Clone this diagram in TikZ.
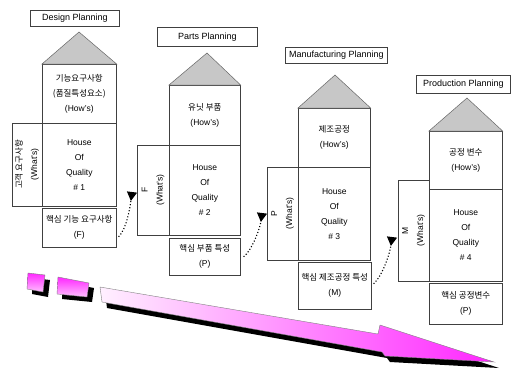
\documentclass[tikz,border=0pt]{standalone}
\usepackage{fontspec}
\setmainfont{Liberation Sans}
\newfontfamily\kr{Noto Sans CJK KR}
\usetikzlibrary{arrows.meta, positioning}

\begin{document}
\begin{tikzpicture}[
  x=1pt, y=-1pt,
  qbox/.style={rectangle, draw=black!75, line width=0.6pt, anchor=north west,
    align=center, inner sep=1pt, font=\fontsize{8.5}{15}\selectfont},
  ttl/.style={qbox, fill=white, font=\fontsize{9}{11}\selectfont},
  whats/.style={qbox, anchor=center, rotate=90},
  roof/.style={fill=black!22, draw=black!60, line width=0.5pt},
  flow/.style={dotted, line width=1.1pt,
    -{Triangle[reversed, length=9pt, width=10pt]}},
  shadowfill/.style={fill=black},
]
\useasboundingbox (0,0) rectangle (516,368);

%% ── House 1 : design planning ────────────────────────────────────────────────
\node[ttl, minimum width=89pt, minimum height=16pt] (T1) at (30,10) {Design Planning};
\node[qbox, minimum width=74pt, minimum height=59pt] (U1) at (42,64)
  {{\kr 기능요구사항}\\{\kr (품질특성요소)}\\(How's)};
\node[qbox, minimum width=74pt, minimum height=83pt] (M1) at (42,123)
  {House\\Of\\Quality\\\# 1};
\node[whats, minimum width=83pt, minimum height=30pt] (W1) at (27,164.5)
  {{\kr 고객 요구사항}\\(What's)};
\node[qbox, minimum width=74pt, minimum height=39pt] (B1) at (42,208)
  {{\kr 핵심 기능 요구사항}\\(F)};
\draw[roof] (U1.north west) -- (79,32) -- (U1.north east) -- cycle;

%% ── House 2 : parts planning ─────────────────────────────────────────────────
\node[ttl, minimum width=100pt, minimum height=19pt] (T2) at (157,27) {Parts Planning};
\node[qbox, minimum width=71pt, minimum height=60pt] (U2) at (169,85)
  {{\kr 유닛 부품}\\(How's)};
\node[qbox, minimum width=71pt, minimum height=90pt] (M2) at (169,145)
  {House\\Of\\Quality\\\# 2};
\node[whats, minimum width=90pt, minimum height=32pt] (W2) at (153,190)
  {F\\(What's)};
\node[qbox, minimum width=71pt, minimum height=37pt] (B2) at (169,238)
  {{\kr 핵심 부품 특성}\\(P)};
\draw[roof] (U2.north west) -- (207,53) -- (U2.north east) -- cycle;

%% ── House 3 : manufacturing planning ─────────────────────────────────────────
\node[ttl, minimum width=102pt, minimum height=16pt] (T3) at (285,47) {Manufacturing Planning};
\node[qbox, minimum width=72pt, minimum height=59pt] (U3) at (298,108)
  {{\kr 제조공정}\\(How's)};
\node[qbox, minimum width=72pt, minimum height=93pt] (M3) at (298,167)
  {House\\Of\\Quality\\\# 3};
\node[whats, minimum width=93pt, minimum height=31pt] (W3) at (282.5,213.5)
  {P\\(What's)};
\node[qbox, minimum width=73pt, minimum height=47pt] (B3) at (298,262)
  {{\kr 핵심 제조공정 특성}\\(M)};
\draw[roof] (U3.north west) -- (335,75) -- (U3.north east) -- cycle;

%% ── House 4 : production planning ────────────────────────────────────────────
\node[ttl, minimum width=94pt, minimum height=18pt] (T4) at (416,75) {Production Planning};
\node[qbox, minimum width=73pt, minimum height=58pt] (U4) at (429,131)
  {{\kr 공정 변수}\\(How's)};
\node[qbox, minimum width=73pt, minimum height=92pt] (M4) at (429,189)
  {House\\Of\\Quality\\\# 4};
\node[whats, minimum width=101pt, minimum height=31pt] (W4) at (413.5,230.5)
  {M\\(What's)};
\node[qbox, minimum width=73pt, minimum height=41pt] (B4) at (429,283)
  {{\kr 핵심 공정변수}\\(P)};
\draw[roof] (U4.north west) -- (467,98) -- (U4.north east) -- cycle;

%% ── Dotted hand-over arrows ──────────────────────────────────────────────────
\coordinate (E1) at (132,192);
\coordinate (E2) at (262,213);
\coordinate (E3) at (392,237);
\draw[flow] ([xshift=2pt,yshift=-9pt]B1.east) .. controls +(8,-8) and +(-2,16) .. (E1);
\draw[flow] ([xshift=3pt]B2.east) .. controls +(8,-6) and +(-2,16) .. (E2);
\draw[flow] ([xshift=2pt,yshift=2pt]B3.east) .. controls +(9,-8) and +(-2,16) .. (E3);

%% ── Progress arrow ───────────────────────────────────────────────────────────
\fill[shadowfill, xshift=5pt, yshift=-5pt]
  (28,273) -- (45,275) -- (43,292) -- (27,289) -- cycle;
\fill[shadowfill, xshift=5pt, yshift=-5pt]
  (58,277) -- (89,283) -- (87,297) -- (57,294) -- cycle;
\fill[shadowfill, xshift=5pt, yshift=-6pt]
  (100,287) -- (378,334) -- (380,325) -- (494,362) -- (385,356)
  -- (382,352) -- (102,302) -- cycle;
\path[draw=black!50, top color=magenta!85, bottom color=magenta!25]
  (28,273) -- (45,275) -- (43,292) -- (27,289) -- cycle;
\path[draw=black!50, top color=magenta!85, bottom color=magenta!25]
  (58,277) -- (89,283) -- (87,297) -- (57,294) -- cycle;
\path[draw=black!50, left color=magenta!6, right color=magenta!85]
  (100,287) -- (378,334) -- (380,325) -- (494,362) -- (385,356)
  -- (382,352) -- (102,302) -- cycle;

\end{tikzpicture}
\end{document}
